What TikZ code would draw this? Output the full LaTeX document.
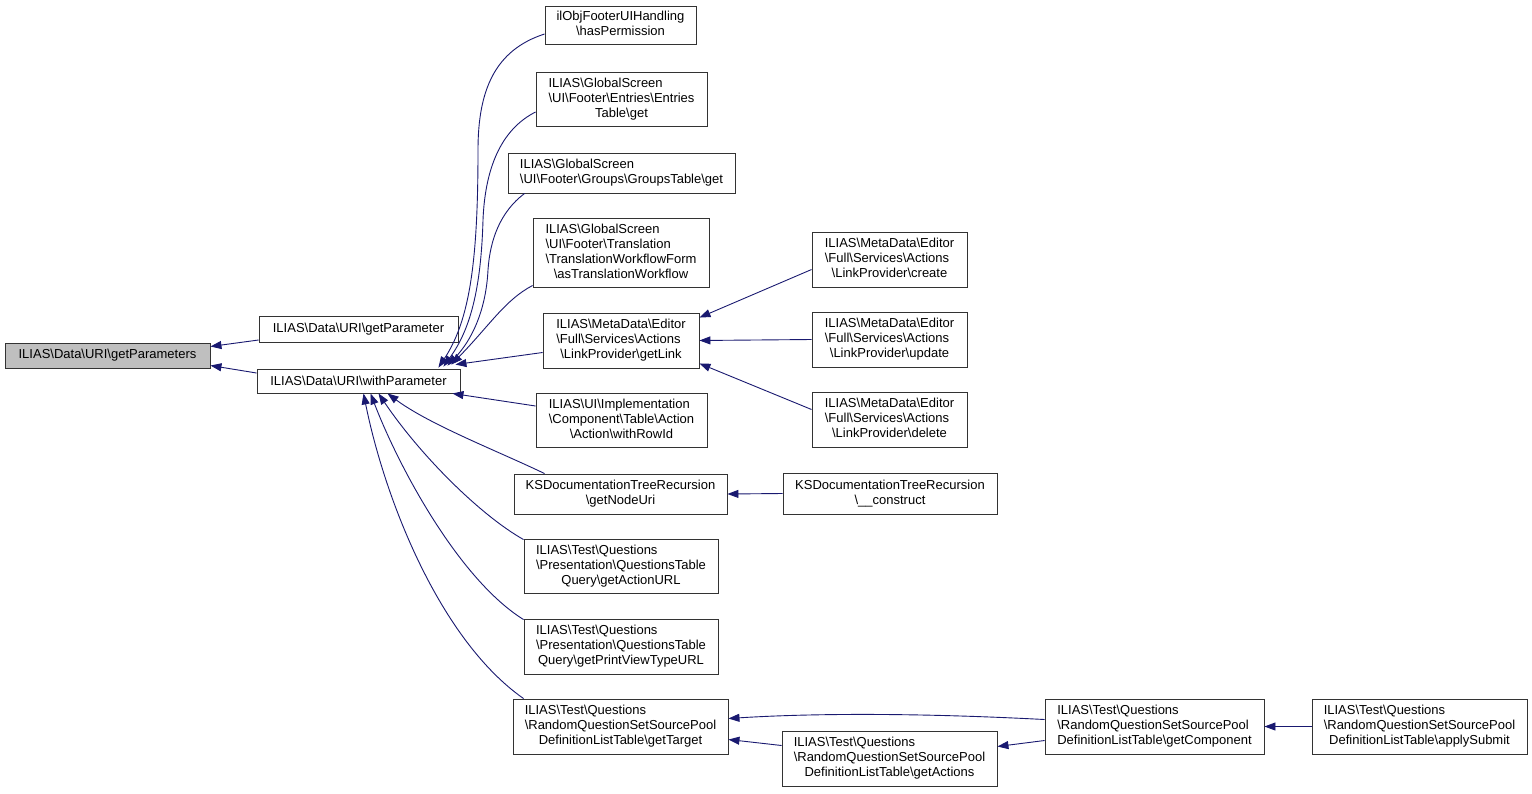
\documentclass[tikz,border=0pt]{standalone}
\usepackage{fontspec}
\setmainfont{Liberation Sans}
\usetikzlibrary{arrows.meta,calc}
\definecolor{edgeblue}{HTML}{191970}
\definecolor{rootgray}{HTML}{BFBFBF}
\definecolor{boxline}{HTML}{333333}
\newcommand\bsl{\textbackslash}
\newcommand\nlab[2]{\begin{tabular}{@{}l@{}}#1\\\multicolumn{1}{@{}c@{}}{#2}\end{tabular}}
\tikzset{
  box/.style={draw=boxline, line width=0.9pt, fill=white, inner sep=0pt,
    font=\fontsize{13}{15}\selectfont, align=center},
  rootbox/.style={box, fill=rootgray},
  edge/.style={draw=edgeblue, line width=0.9pt, -{Triangle[length=11pt,width=8pt]}},
}
\begin{document}
\begin{tikzpicture}[x=1pt,y=-1pt]
\path[use as bounding box, fill=white] (0,0) rectangle (1532,793);

\node[rootbox, minimum width=205, minimum height=25] (gp) at (107.5,355.5) {ILIAS\bsl Data\bsl URI\bsl getParameters};
\node[box, minimum width=199, minimum height=26] (gpa) at (358.5,329) {ILIAS\bsl Data\bsl URI\bsl getParameter};
\node[box, minimum width=203, minimum height=24] (wp) at (358.5,381) {ILIAS\bsl Data\bsl URI\bsl withParameter};

\node[box, minimum width=151, minimum height=38] (hp) at (620.5,25) {\nlab{ilObjFooterUIHandling}{\bsl hasPermission}};
\node[box, minimum width=171, minimum height=54] (ent) at (621.5,99) {\nlab{ILIAS\bsl GlobalScreen\\\bsl UI\bsl Footer\bsl Entries\bsl Entries}{Table\bsl get}};
\node[box, minimum width=227, minimum height=40] (grp) at (621.5,173) {\nlab{ILIAS\bsl GlobalScreen}{\bsl UI\bsl Footer\bsl Groups\bsl GroupsTable\bsl get}};
\node[box, minimum width=176, minimum height=69] (trn) at (621,252.5) {\nlab{ILIAS\bsl GlobalScreen\\\bsl UI\bsl Footer\bsl Translation\\\bsl TranslationWorkflowForm}{\bsl asTranslationWorkflow}};
\node[box, minimum width=156, minimum height=55] (gl) at (621,340.5) {\nlab{ILIAS\bsl MetaData\bsl Editor\\\bsl Full\bsl Services\bsl Actions}{\bsl LinkProvider\bsl getLink}};
\node[box, minimum width=171, minimum height=54] (wr) at (621.5,420) {\nlab{ILIAS\bsl UI\bsl Implementation\\\bsl Component\bsl Table\bsl Action}{\bsl Action\bsl withRowId}};
\node[box, minimum width=213, minimum height=40] (gnu) at (620.5,494) {\nlab{KSDocumentationTreeRecursion}{\bsl getNodeUri}};
\node[box, minimum width=194, minimum height=54] (gau) at (621,566) {\nlab{ILIAS\bsl Test\bsl Questions\\\bsl Presentation\bsl QuestionsTable}{Query\bsl getActionURL}};
\node[box, minimum width=194, minimum height=55] (gpv) at (621,646.5) {\nlab{ILIAS\bsl Test\bsl Questions\\\bsl Presentation\bsl QuestionsTable}{Query\bsl getPrintViewTypeURL}};
\node[box, minimum width=215, minimum height=55] (gt) at (620.5,726.5) {\nlab{ILIAS\bsl Test\bsl Questions\\\bsl RandomQuestionSetSourcePool}{DefinitionListTable\bsl getTarget}};

\node[box, minimum width=155, minimum height=55] (cr) at (889.5,259.5) {\nlab{ILIAS\bsl MetaData\bsl Editor\\\bsl Full\bsl Services\bsl Actions}{\bsl LinkProvider\bsl create}};
\node[box, minimum width=155, minimum height=55] (up) at (889.5,339.5) {\nlab{ILIAS\bsl MetaData\bsl Editor\\\bsl Full\bsl Services\bsl Actions}{\bsl LinkProvider\bsl update}};
\node[box, minimum width=155, minimum height=55] (de) at (889.5,419.5) {\nlab{ILIAS\bsl MetaData\bsl Editor\\\bsl Full\bsl Services\bsl Actions}{\bsl LinkProvider\bsl delete}};
\node[box, minimum width=214, minimum height=41] (con) at (890,493.5) {\nlab{KSDocumentationTreeRecursion}{\bsl \_\_construct}};
\node[box, minimum width=215, minimum height=55] (ga) at (889.5,758.5) {\nlab{ILIAS\bsl Test\bsl Questions\\\bsl RandomQuestionSetSourcePool}{DefinitionListTable\bsl getActions}};
\node[box, minimum width=219, minimum height=55] (gc) at (1154.5,726.5) {\nlab{ILIAS\bsl Test\bsl Questions\\\bsl RandomQuestionSetSourcePool}{DefinitionListTable\bsl getComponent}};
\node[box, minimum width=215, minimum height=55] (as) at (1419.5,726.5) {\nlab{ILIAS\bsl Test\bsl Questions\\\bsl RandomQuestionSetSourcePool}{DefinitionListTable\bsl applySubmit}};

% edges
\draw[edge] ($(gpa.west)+(0,11)$) -- ($(gp.east)+(0,-9)$);
\draw[edge] ($(wp.west)+(0,-8)$) -- ($(gp.east)+(0,10)$);

\draw[edge] ($(hp.west)+(0,9)$) .. controls (495,50) and (478,90) .. (478,150) .. controls (478,260) and (470,320) .. ($(wp.north east)+(-22,-1)$);
\draw[edge] ($(ent.west)+(0,13)$) .. controls (500,130) and (485,170) .. (483,220) .. controls (481,290) and (470,330) .. ($(wp.north east)+(-17,-2)$);
\draw[edge] ($(grp.south west)+(17,0)$) .. controls (500,212) and (490,240) .. (488,270) .. controls (486,310) and (472,340) .. ($(wp.north east)+(-13,-3)$);
\draw[edge] ($(trn.west)+(0,33)$) .. controls (505,300) and (490,325) .. ($(wp.north east)+(-9,-4)$);
\draw[edge] ($(gl.west)+(0,12)$) -- ($(wp.north east)+(-5,-4)$);
\draw[edge] ($(wr.west)+(0,-14)$) -- ($(wp.south east)+(-8,0)$);

\draw[edge] ($(gnu.north west)+(31,0)$) .. controls (500,452) and (430,425) .. ($(wp.south)+(29,0)$);
\draw[edge] ($(gau.north west)+(0,1)$) .. controls (480,515) and (420,455) .. ($(wp.south)+(20,0)$);
\draw[edge] ($(gpv.north west)+(0,1)$) .. controls (460,580) and (400,470) .. ($(wp.south)+(12,0)$);
\draw[edge] ($(gt.north west)+(11,0)$) .. controls (440,640) and (385,500) .. ($(wp.south)+(5,0)$);

\draw[edge] ($(cr.west)+(0,10)$) -- ($(gl.north east)+(0,5)$);
\draw[edge] (up.west) -- (gl.east);
\draw[edge] ($(de.west)+(0,-10)$) -- ($(gl.south east)+(0,-5)$);
\draw[edge] (con.west) -- (gnu.east);

\draw[edge] ($(gc.west)+(0,-7)$) .. controls (900,712) and (800,714) .. ($(gt.east)+(0,-8)$);
\draw[edge] ($(ga.west)+(0,-13)$) -- ($(gt.east)+(0,13)$);
\draw[edge] ($(gc.west)+(0,14)$) -- ($(ga.east)+(0,-12)$);
\draw[edge] (as.west) -- (gc.east);
\end{tikzpicture}
\end{document}
